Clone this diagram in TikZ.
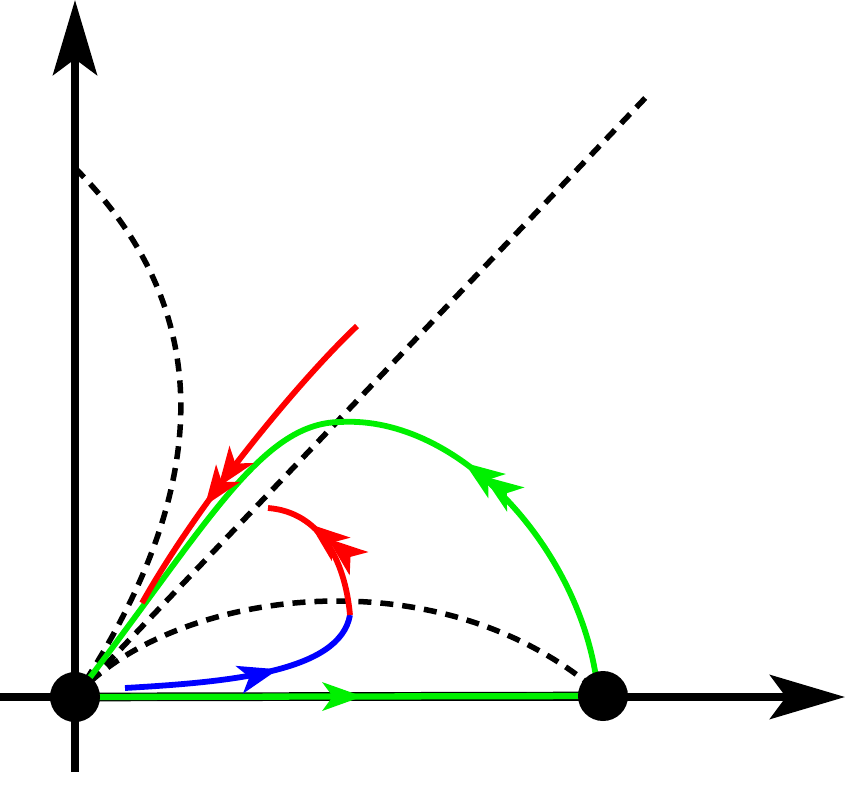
\documentclass[tikz,border=0pt]{standalone}
\usetikzlibrary{arrows.meta,decorations.markings}
\definecolor{lgreen}{RGB}{0,240,0}
\newcommand\dblhead{%
  \fill (0pt,0pt) -- (-40pt,15pt) -- (-29pt,0pt) -- (-40pt,-15pt) -- cycle;
  \fill (-23pt,0pt) -- (-63pt,15pt) -- (-52pt,0pt) -- (-63pt,-15pt) -- cycle;}
\begin{document}
\begin{tikzpicture}[x=1pt,y=-1pt,
  axis/.style={line width=7.7pt,-{Stealth[length=75pt,width=44pt,inset=16pt]}},
  dsh/.style={line width=5.5pt,dash pattern=on 13pt off 9pt},
  crv/.style={line width=5.8pt},
  dbl/.style={postaction={decorate},decoration={markings,mark=at position #1 with {\dblhead}}},
  sgl/.style={postaction={decorate},decoration={markings,mark=at position #1 with {\arrow{Stealth[length=40pt,width=28pt,inset=10pt]}}}},
  dot/.style={circle,fill=black,minimum size=50pt,inner sep=0pt}]
\useasboundingbox (0,0) rectangle (847,787);
% axes
\coordinate (xs) at (0,697);
\coordinate (xe) at (845,697);
\coordinate (ys) at (75,772);
\coordinate (ye) at (75,0);
\draw[axis] (xs) -- (xe);
\draw[axis] (ys) -- (ye);
\coordinate (Oc) at (75,697);
\coordinate (Pc) at (603,696);
% dashed
\coordinate (diag) at (650,93);
\coordinate (ytop) at (75,168);
\draw[dsh] (Oc) -- (diag);
\draw[dsh] (ytop) .. controls (240,333) and (190,525) .. (Oc);
\draw[dsh] (Oc) .. controls (170,590) and (440,550) .. (Pc);
% green horizontal
\draw[line width=8.7pt] (Oc) -- (Pc);
\draw[lgreen,line width=6.3pt,sgl=0.545] (Oc) -- (Pc);
% green arch
\draw[lgreen,crv,dbl=0.335] (597,684) .. controls (580,550) and (460,415) .. (340,422) .. controls (260,423) and (206,527) .. (Oc);
% red line
\coordinate (r1) at (357,326);
\coordinate (r2) at (142,603);
\draw[red,crv,dbl=0.67] (r1) .. controls (300,380) and (200,500) .. (r2);
% blue
\coordinate (b1) at (125,688);
\coordinate (b2) at (350,615);
\coordinate (r3) at (268,508);
\draw[blue,crv,sgl=0.62] (b1) .. controls (230,682) and (340,672) .. (b2);
\draw[red,crv,dbl=0.69] (b2) .. controls (345,560) and (320,512) .. (r3);
% dots
\node[dot] (O) at (Oc) {};
\node[dot] (P) at (Pc) {};
\end{tikzpicture}
\end{document}
